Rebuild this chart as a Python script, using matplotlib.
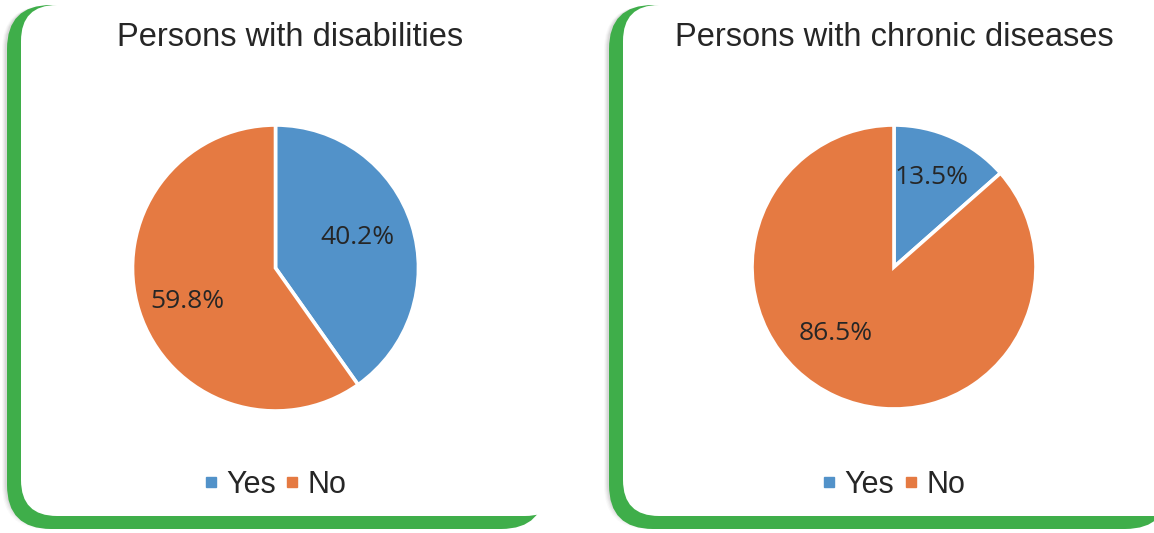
import math
import matplotlib
matplotlib.use("Agg")
import matplotlib.pyplot as plt
from matplotlib.patches import FancyBboxPatch
from matplotlib.lines import Line2D

# ---- data ----
titles = ["Persons with disabilities", "Persons with chronic diseases"]
categories = ["Yes", "No"]
disabilities = [40.2, 59.8]
chronic = [13.5, 86.5]
series = [disabilities, chronic]

colors = ["#5292C9", "#E57A42"]
green = "#3FAE4A"
text_dark = "#262626"

W, H = 1154, 533
DPI = 100
fig = plt.figure(figsize=(W / DPI, H / DPI), dpi=DPI)
fig.patch.set_facecolor("white")

# background canvas in pixel units (origin top-left)
bg = fig.add_axes([0, 0, 1, 1], zorder=0)
bg.set_xlim(0, W)
bg.set_ylim(H, 0)
bg.axis("off")

panels = [
    dict(gx=7, gw=538, wx=21, ww=540, cx=275.5, cy=268, r=143, tx=290),
    dict(gx=609, gw=560, wx=623, ww=600, cx=894, cy=267, r=142, tx=894),
]

for p in panels:
    # soft grey shadow behind the frame
    for k, a in enumerate([0.04, 0.06, 0.08, 0.10]):
        off = 5 - k
        bg.add_patch(FancyBboxPatch((p["gx"] - off, 6), p["gw"], 524 - 6 + off,
                                    boxstyle="round,pad=0,rounding_size=44",
                                    fc="#707070", ec="none", alpha=a, zorder=1))
    # green frame
    bg.add_patch(FancyBboxPatch((p["gx"], 5), p["gw"], 524,
                                boxstyle="round,pad=0,rounding_size=44",
                                fc=green, ec="none", zorder=2))
    # white card
    bg.add_patch(FancyBboxPatch((p["wx"], 5), p["ww"], 511,
                                boxstyle="round,pad=0,rounding_size=36",
                                fc="white", ec="none", zorder=3))

# label placement (radius fraction, angle in degrees) for each wedge
label_pos = [[(0.61, 20.8), (0.66, 201.0)],
             [(0.68, 67.4), (0.62, 228.7)]]

for i, (p, vals, title) in enumerate(zip(panels, series, titles)):
    r = p["r"]
    ax = fig.add_axes([(p["cx"] - r) / W, (H - p["cy"] - r) / H, 2 * r / W, 2 * r / H],
                      zorder=5)
    ax.pie(vals, colors=colors, startangle=90, counterclock=False, radius=1.0,
           wedgeprops=dict(edgecolor="white", linewidth=2.6))
    ax.set_xlim(-1, 1)
    ax.set_ylim(-1, 1)
    ax.set_aspect("equal")
    ax.axis("off")
    for v, (d, ang) in zip(vals, label_pos[i]):
        ax.text(d * math.cos(math.radians(ang)), d * math.sin(math.radians(ang)),
                f"{v:.1f}%", ha="center", va="center", fontsize=19,
                family="Open Sans", color=text_dark)

    # title
    fig.text(p["tx"] / W, 1 - 38 / H, title, ha="center", va="center",
             fontsize=23.5, family="Liberation Sans", color=text_dark, zorder=6)

    # legend
    handles = [Line2D([], [], marker="s", linestyle="none", markersize=7.2,
                      markerfacecolor=c, markeredgecolor=c) for c in colors]
    leg = fig.legend(handles, categories, loc="center",
                     bbox_to_anchor=(p["cx"] / W, 1 - 485 / H),
                     ncol=2, frameon=False, handlelength=0.4, handletextpad=0.3,
                     columnspacing=0.35, prop=dict(family="Liberation Sans", size=22))
    for t in leg.get_texts():
        t.set_color(text_dark)
    leg.set_zorder(6)

fig.savefig("out.png", dpi=DPI, facecolor="white")
